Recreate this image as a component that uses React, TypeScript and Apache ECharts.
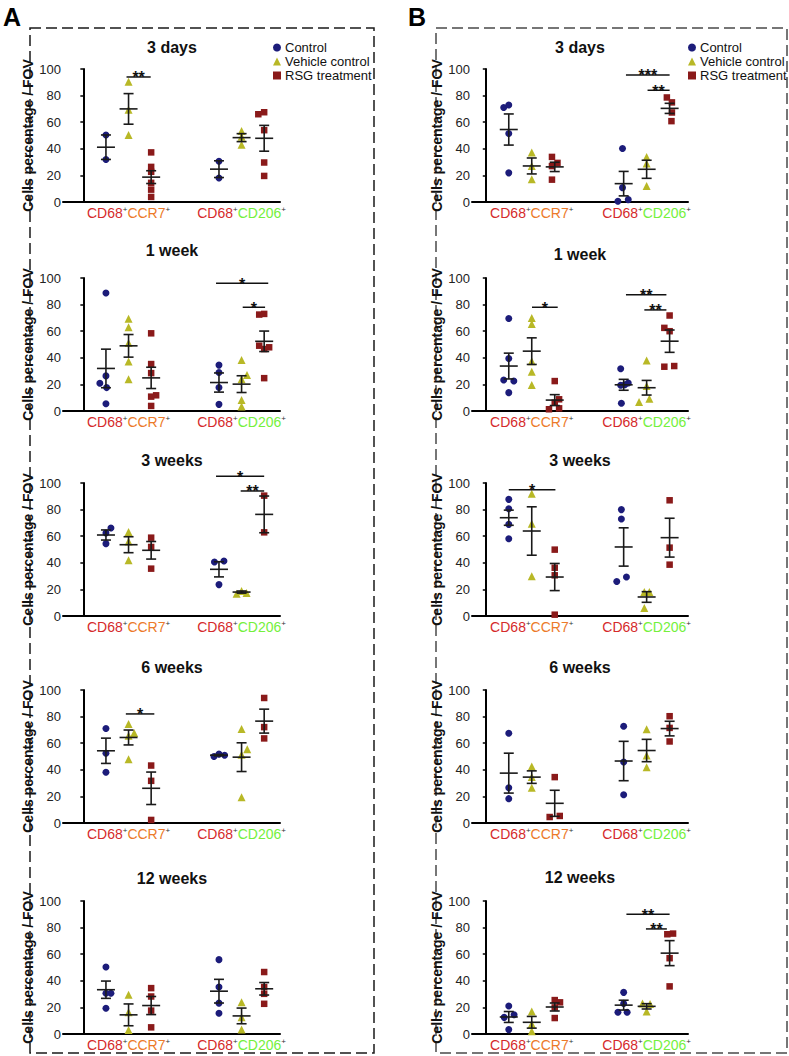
import React, { useEffect, useRef } from "react";
import * as echarts from "echarts";

// ---------- labels ----------
const panelTitles = ["3 days", "1 week", "3 weeks", "6 weeks", "12 weeks"];
const groupNames = ["Control", "Vehicle control", "RSG treatment"];
const markerLabels = ["CD68+CCR7+", "CD68+CD206+"];
const yTicks = [0, 20, 40, 60, 80, 100];
const yName = "Cells percentage / FOV";
// x positions of the 6 groups: Control/Vehicle/RSG for CCR7, then for CD206
const groupX = [1, 2, 3, 6, 7, 8];

// ---------- data: points [value, jitter], means, SEM, significance [x1, x2, y, stars] ----------
// Panel A
const A_3d_pts = [
  [[50.4, 0], [32, 0]],
  [[90.4, 0], [69.3, 0], [50.4, 0]],
  [[37.3, 0], [26.4, 0], [22.7, 0], [14.4, 0], [9.3, 0], [3.8, 0]],
  [[30.7, 0], [18.1, 0]],
  [[53.4, 0], [49, 0], [43, 0]],
  [[66, -0.26], [67.5, 0], [54, 0], [29.7, 0], [19.6, 0]],
];
const A_3d_mean = [41.2, 70, 18.7, 24.7, 48.4, 47.9];
const A_3d_sem = [9.2, 11.5, 4.8, 6.3, 3, 9.7];
const A_3d_sig = [[1.91, 2.98, 94, 2]];

const A_1w_pts = [
  [[88.7, 0], [26.4, 0], [20.9, -0.27], [17.6, 0.03], [5.5, 0]],
  [[69.3, 0], [63, 0], [51.1, 0], [37.3, 0], [23.9, 0]],
  [[58.4, 0], [35.3, 0], [28.5, 0], [11.8, 0.22], [10.8, 0], [3.8, 0]],
  [[34.5, 0], [29, 0], [17.6, 0], [5, 0]],
  [[38.3, 0], [27, 0.24], [23.9, 0], [8.3, 0], [3.3, 0]],
  [[72.5, -0.22], [73, 0], [49.1, -0.22], [47.9, 0.22], [46.6, 0], [24.7, 0]],
];
const A_1w_mean = [32, 49, 24.9, 21.4, 20.2, 52.4];
const A_1w_sem = [14.5, 8.5, 8, 7.2, 6.3, 7.7];
const A_1w_sig = [[5.87, 8.18, 96, 1], [7.05, 8.04, 78, 1]];

const A_3w_pts = [
  [[66.2, 0.22], [62.4, 0], [54.4, 0]],
  [[63.2, 0], [56.1, 0], [41.9, 0]],
  [[58.9, 0], [51.9, 0], [35.6, 0]],
  [[41.4, 0.22], [40.6, -0.2], [23.6, 0]],
  [[18.8, 0], [16.8, -0.22], [17.3, 0.22]],
  [[90.5, 0], [62.9, 0]],
];
const A_3w_mean = [60.9, 53.6, 49.4, 35.1, 18, 76.4];
const A_3w_sem = [3.8, 6, 6.6, 5.7, 0.8, 13.8];
const A_3w_sig = [[5.87, 8.0, 105, 1], [6.96, 8.0, 94, 2]];

const A_6w_pts = [
  [[71.1, 0], [52.5, 0], [38.2, 0]],
  [[74.4, 0], [67.6, 0.25], [65.6, 0], [48, 0]],
  [[43.2, 0], [31.7, 0], [2.3, 0]],
  [[50, -0.22], [51.8, 0], [51, 0.25]],
  [[70.6, 0], [55.5, 0.25], [51.3, 0], [19.3, 0]],
  [[94, 0], [72.1, 0], [63.6, 0]],
];
const A_6w_mean = [54.3, 64.3, 26.1, 51, 49.5, 76.6];
const A_6w_sem = [9.5, 5.6, 12.2, 0.5, 10.8, 9];
const A_6w_sig = [[1.88, 3.14, 82, 1]];

const A_12w_pts = [
  [[50.4, 0], [30.7, 0.22], [30.7, 0], [19.4, 0]],
  [[29.5, 0], [16.4, 0], [3, 0]],
  [[34.5, 0], [28.2, 0], [17.6, 0], [5, 0]],
  [[55.9, 0], [35.3, 0], [23.2, 0], [15.6, 0]],
  [[23.9, 0], [12.6, 0], [3.3, 0]],
  [[46.6, 0], [35.3, 0], [30.2, 0], [22.7, 0]],
];
const A_12w_mean = [33.3, 14.4, 21.4, 32.2, 13.6, 34];
const A_12w_sem = [6.5, 8.2, 6.8, 8.9, 5.9, 4.7];
const A_12w_sig: number[][] = [];

// Panel B
const B_3d_pts = [
  [[71.1, -0.22], [72.9, 0], [51.5, 0], [21.9, 0]],
  [[37.2, 0], [27.1, 0], [17.1, 0]],
  [[33.9, -0.12], [29.4, 0.12], [27, -0.12], [16.8, -0.12]],
  [[40.2, -0.05], [10.8, -0.05], [1.8, 0.2], [0.5, -0.25]],
  [[33.9, 0], [28.9, 0], [12.1, 0]],
  [[78.6, -0.12], [74.9, 0.1], [67.3, 0.1], [60.8, 0.08]],
];
const B_3d_mean = [54.5, 27.1, 26.4, 13.8, 24.6, 70.4];
const B_3d_sem = [11.7, 6, 3.5, 9.2, 6.8, 3.8];
const B_3d_sig = [[6.1, 8.0, 95.5, 3], [7.04, 8.0, 84, 2]];

const B_1w_pts = [
  [[69.5, 0], [39.5, 0], [23.3, -0.22], [22.5, 0.22], [13.8, 0]],
  [[70, 0], [65.5, 0], [37.5, 0], [29.5, 0], [19.5, 0]],
  [[22.5, 0], [8.8, 0.19], [6.3, 0], [2, 0.19], [1.3, -0.25]],
  [[31.8, -0.13], [21, 0.2], [19.8, 0.05], [19.3, -0.13], [5.8, -0.1]],
  [[38, 0], [18.8, 0], [6.8, -0.33], [9.3, 0.12]],
  [[71.8, 0], [62.5, -0.23], [60, 0], [33.3, -0.23], [33.8, 0.2]],
];
const B_1w_mean = [33.8, 45, 8.2, 19.7, 17.5, 52.5];
const B_1w_sem = [9.7, 10, 4.1, 4.1, 5.5, 8.4];
const B_1w_sig = [[2.01, 3.13, 78, 1], [6.1, 7.86, 87.5, 2], [6.9, 7.86, 76, 2]];

const B_3w_pts = [
  [[87.7, 0], [80.7, 0], [68.9, 0], [58.1, 0]],
  [[92, 0], [69.4, 0], [29.8, 0]],
  [[49.9, 0], [36.3, 0], [30.6, 0], [1, 0]],
  [[80, -0.1], [72.9, -0.1], [29.3, 0.12], [26, -0.3]],
  [[18, -0.1], [18, 0.12], [6, -0.1]],
  [[87, 0], [51.4, 0], [38.6, 0]],
];
const B_3w_mean = [73.9, 63.9, 29.3, 51.9, 14.3, 58.9];
const B_3w_sem = [5.7, 18.2, 10.2, 14.4, 4, 14.6];
const B_3w_sig = [[1.0, 3.03, 95, 1]];

const B_6w_pts = [
  [[67.5, 0], [26.5, 0], [18.3, 0]],
  [[42.5, 0], [34.5, 0], [26.5, 0]],
  [[34.5, 0], [4.5, -0.22], [5.3, 0.22]],
  [[72.8, 0], [45.8, 0], [21.3, 0]],
  [[70.5, 0], [50.8, 0], [42, 0]],
  [[80.3, 0], [71.5, 0], [61.3, 0]],
];
const B_6w_mean = [37.5, 34.5, 14.8, 46.6, 54.5, 71];
const B_6w_sem = [15, 4.7, 9.8, 14.8, 8.4, 5.5];
const B_6w_sig: number[][] = [];

const B_12w_pts = [
  [[21, 0], [14.5, 0.23], [12.5, -0.2], [3.3, 0]],
  [[17, 0], [7.5, 0], [2, 0]],
  [[25.5, 0], [23.8, 0.23], [20, 0], [12, 0]],
  [[31.3, 0], [23, 0], [16.3, -0.25], [16.3, 0.15]],
  [[23, -0.18], [22.5, 0.15], [17, 0]],
  [[75, -0.1], [75.5, 0.15], [57, 0], [35.8, 0]],
];
const B_12w_mean = [12.8, 8.8, 20.3, 21.7, 20.8, 60.8];
const B_12w_sem = [4.1, 4.4, 3, 3.7, 2, 9.4];
const B_12w_sig = [[6.12, 8.0, 90, 2], [6.97, 7.88, 79, 2]];

// ---------- layout ----------
const W = 789;
const H = 1056;
const rowTops = [69, 278, 483, 690, 901];
const gridH = 133;
const sides = [
  { letter: "A", left: 63, width: 217, xMin: -0.9, xMax: 8.7, nameGap: 19, titleX: 172, titleY: [47, 250, 460, 667, 878], legendLeft: 268, box: [30, 28, 344, 1025], boxColor: "#1a1a1a", letterX: 12 },
  { letter: "B", left: 472, width: 216, xMin: -0.6, xMax: 8.8, nameGap: 21, titleX: 580, titleY: [47, 254, 460, 667, 877], legendLeft: 683, box: [436, 28, 351, 1025], boxColor: "#4a4a4a", letterX: 417 },
];

const panelsData = [
  [
    [A_3d_pts, A_3d_mean, A_3d_sem, A_3d_sig],
    [A_1w_pts, A_1w_mean, A_1w_sem, A_1w_sig],
    [A_3w_pts, A_3w_mean, A_3w_sem, A_3w_sig],
    [A_6w_pts, A_6w_mean, A_6w_sem, A_6w_sig],
    [A_12w_pts, A_12w_mean, A_12w_sem, A_12w_sig],
  ],
  [
    [B_3d_pts, B_3d_mean, B_3d_sem, B_3d_sig],
    [B_1w_pts, B_1w_mean, B_1w_sem, B_1w_sig],
    [B_3w_pts, B_3w_mean, B_3w_sem, B_3w_sig],
    [B_6w_pts, B_6w_mean, B_6w_sem, B_6w_sig],
    [B_12w_pts, B_12w_mean, B_12w_sem, B_12w_sig],
  ],
];

const colors = ["#1c1c7a", "#b8b826", "#8a1a1a"];
const symbols = ["circle", "triangle", "rect"];
const symbolSizes = [7, 8, 6.5];
const FONT = "Liberation Sans, Arial, Helvetica, sans-serif";
const NARROW = "Liberation Sans Narrow, Arial Narrow, Liberation Sans, Arial, sans-serif";

function buildOption() {
  const grid: any[] = [];
  const xAxis: any[] = [];
  const yAxis: any[] = [];
  const series: any[] = [];
  const graphic: any[] = [];
  let gi = 0;

  sides.forEach((side, si) => {
    // dashed frame
    graphic.push({
      type: "rect",
      shape: { x: side.box[0], y: side.box[1], width: side.box[2], height: side.box[3] },
      style: { fill: "none", stroke: side.boxColor, lineWidth: 1.5, lineDash: [11, 5] },
      silent: true,
    });
    graphic.push({
      type: "text",
      x: side.letterX,
      y: 17,
      style: { text: side.letter, font: `bold 25px ${FONT}`, fill: "#000", align: "center", verticalAlign: "middle" },
    });

    panelsData[si].forEach((pd, ri) => {
      const [pts, mean, sem, sig] = pd as any;
      grid.push({ left: side.left, top: rowTops[ri], width: side.width, height: gridH, containLabel: false });
      xAxis.push({
        type: "value",
        gridIndex: gi,
        min: side.xMin,
        max: side.xMax,
        splitLine: { show: false },
        axisTick: { show: false },
        axisLine: { show: true, onZero: false, lineStyle: { color: "#000", width: 2 } },
        axisLabel: {
          customValues: [2, 7],
          margin: 3,
          formatter: (v: number) =>
            v < 4 ? "{r|CD68}{s|+}{o|CCR7}{s|+}" : "{r|CD68}{s|+}{g|CD206}{s|+}",
          rich: {
            r: { color: "#d52a2b", fontSize: 14, fontFamily: FONT, lineHeight: 15 },
            o: { color: "#ec7a2a", fontSize: 14, fontFamily: FONT, lineHeight: 15 },
            g: { color: "#74f03c", fontSize: 14, fontFamily: FONT, lineHeight: 15 },
            s: { color: "#333", fontSize: 8, fontFamily: FONT, verticalAlign: "top", lineHeight: 9 },
          },
        },
      });
      yAxis.push({
        type: "value",
        gridIndex: gi,
        min: 0,
        max: 100,
        interval: 20,
        splitLine: { show: false },
        axisLine: { show: true, lineStyle: { color: "#000", width: 2 } },
        axisTick: { show: true, length: 3, lineStyle: { color: "#000", width: 1.5 } },
        axisLabel: { fontSize: 13, color: "#222", fontFamily: NARROW, margin: 2 },
        name: yName,
        nameLocation: "middle",
        nameGap: side.nameGap,
        nameRotate: 90,
        nameTextStyle: { fontSize: 14, fontWeight: "bold", color: "#111", fontFamily: FONT },
      });

      // title
      graphic.push({
        type: "text",
        x: side.titleX,
        y: side.titleY[ri],
        style: { text: panelTitles[ri], font: `bold 16px ${FONT}`, fill: "#111", align: "center", verticalAlign: "middle" },
      });

      // scatter points for 3 treatments
      for (let t = 0; t < 3; t++) {
        const data: number[][] = [];
        for (let m = 0; m < 2; m++) {
          const g = m * 3 + t;
          (pts[g] as number[][]).forEach(([v, dx]) => data.push([groupX[g] + dx, v]));
        }
        series.push({
          type: "scatter",
          name: groupNames[t],
          xAxisIndex: gi,
          yAxisIndex: gi,
          symbol: symbols[t],
          symbolSize: symbolSizes[t],
          itemStyle: { color: colors[t], opacity: 1 },
          data,
          z: 2,
          silent: true,
        });
      }

      // mean ± SEM
      series.push({
        type: "custom",
        xAxisIndex: gi,
        yAxisIndex: gi,
        z: 3,
        silent: true,
        data: groupX.map((x, g) => [x, mean[g], sem[g]]),
        encode: { x: 0, y: 1 },
        renderItem: (params: any, api: any) => {
          const x = api.value(0);
          const m = api.value(1);
          const s = api.value(2);
          const c = api.coord([x, m]);
          const top = api.coord([x, m + s]);
          const bot = api.coord([x, m - s]);
          const style = { stroke: "#1a1a1a", lineWidth: 1.6 };
          return {
            type: "group",
            children: [
              { type: "line", shape: { x1: c[0] - 9, y1: c[1], x2: c[0] + 9, y2: c[1] }, style },
              { type: "line", shape: { x1: c[0], y1: top[1], x2: c[0], y2: bot[1] }, style },
              { type: "line", shape: { x1: c[0] - 5, y1: top[1], x2: c[0] + 5, y2: top[1] }, style },
              { type: "line", shape: { x1: c[0] - 5, y1: bot[1], x2: c[0] + 5, y2: bot[1] }, style },
            ],
          };
        },
      });

      // significance bars
      if ((sig as number[][]).length) {
        series.push({
          type: "custom",
          xAxisIndex: gi,
          yAxisIndex: gi,
          z: 4,
          clip: false,
          silent: true,
          data: sig,
          encode: { x: [0, 1], y: 2 },
          renderItem: (params: any, api: any) => {
            const a = api.coord([api.value(0), api.value(2)]);
            const b = api.coord([api.value(1), api.value(2)]);
            const n = api.value(3);
            return {
              type: "group",
              children: [
                { type: "line", shape: { x1: a[0], y1: a[1], x2: b[0], y2: b[1] }, style: { stroke: "#111", lineWidth: 1.5 } },
                {
                  type: "text",
                  x: (a[0] + b[0]) / 2,
                  y: a[1] + 1,
                  style: { text: "*".repeat(n), font: `bold 16px ${FONT}`, fill: "#111", align: "center", verticalAlign: "middle" },
                },
              ],
            };
          },
        });
      }
      gi++;
    });
  });

  const legend = sides.map((side) => ({
    orient: "vertical",
    left: side.legendLeft,
    top: 36,
    itemWidth: 8,
    itemHeight: 8,
    itemGap: 1,
    selectedMode: false,
    textStyle: { fontSize: 13, color: "#111", fontFamily: FONT, padding: [0, 0, 0, -1] },
    data: groupNames.map((n, i) => ({ name: n, icon: symbols[i] })),
  }));

  return {
    animation: false,
    backgroundColor: "#fff",
    grid,
    xAxis,
    yAxis,
    series,
    legend,
    graphic,
  };
}

export default function App() {
  const ref = useRef<HTMLDivElement>(null);
  useEffect(() => {
    if (!ref.current) return;
    const chart = echarts.init(ref.current, undefined, { renderer: "svg", width: W, height: H });
    chart.setOption(buildOption() as any);
    return () => chart.dispose();
  }, []);
  return (
    <div
      ref={ref}
      style={{ position: "absolute", left: 0, top: 0, width: W, height: H, background: "#fff" }}
    />
  );
}
